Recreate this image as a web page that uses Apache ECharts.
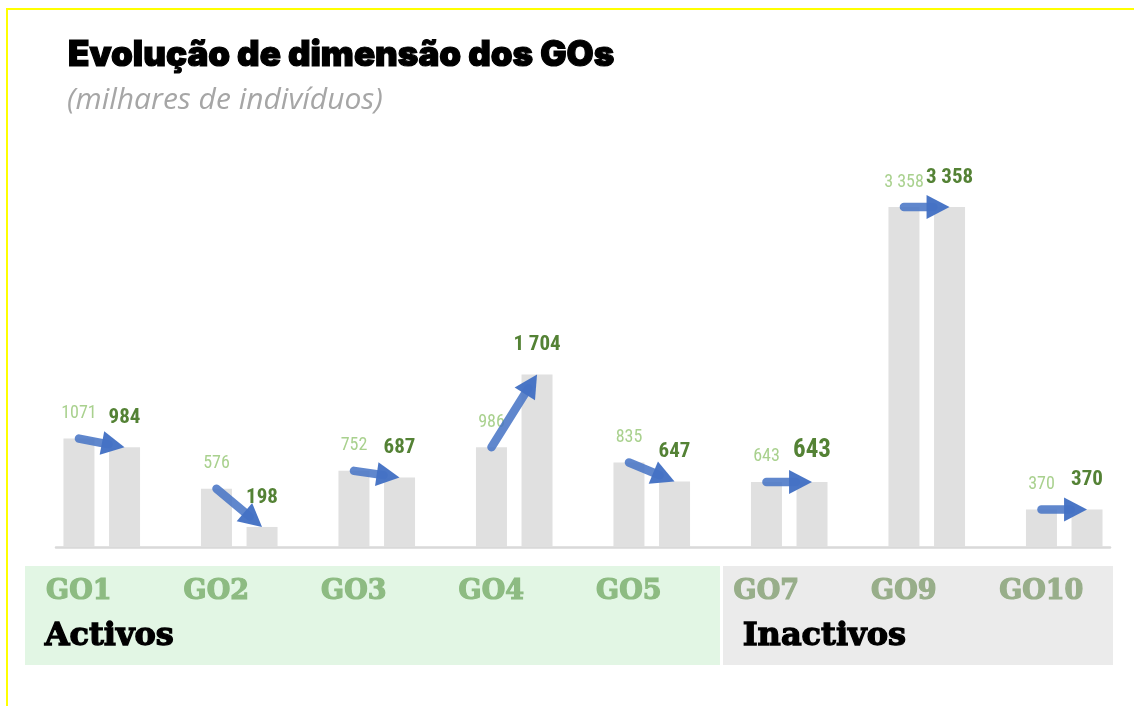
<!DOCTYPE html>
<html>
<head>
<meta charset="utf-8">
<script src="https://cdn.jsdelivr.net/npm/echarts@6/dist/echarts.min.js"></script>
<style>
html,body{margin:0;padding:0;background:#fff;}
#c{width:1134px;height:706px;}
</style>
</head>
<body>
<div id="c"></div>
<script>
// ---- data ----
var categories = ['GO1', 'GO2', 'GO3', 'GO4', 'GO5', 'GO7', 'GO9', 'GO10'];
var oldValues = [1071, 576, 752, 986, 835, 643, 3358, 370];
var newValues = [984, 198, 687, 1704, 647, 643, 3358, 370];
var oldLabels = ['1071', '576', '752', '986', '835', '643', '3 358', '370'];
var newLabels = ['984', '198', '687', '1 704', '647', '643', '3 358', '370'];
var activeCount = 5; // GO1..GO5 are "Activos"
var groupNames = ['Activos', 'Inactivos'];

// ---- style constants ----
var BAR_W = 31, BAR_GAP = 0.47;
var BAR_OFF = (BAR_W + BAR_W * BAR_GAP) / 2;
var NUM_FONT = '"Liberation Sans Narrow", "Roboto Condensed", "Liberation Sans", Arial, sans-serif';
var SLAB = '"DejaVu Serif", serif';
var ACT_COLOR = '#8dbb82', INACT_COLOR = '#98ae8a';

var chart = echarts.init(document.getElementById('c'), null, {renderer: 'canvas'});

var newData = newValues.map(function (v, i) {
  var item = {value: v};
  if (categories[i] === 'GO7') item.label = {fontSize: 25};
  return item;
});

var catData = categories.map(function (c, i) {
  var col = i < activeCount ? ACT_COLOR : INACT_COLOR;
  return {value: c, textStyle: {color: col, textBorderColor: col, textBorderWidth: 1.2}};
});

var arrowData = categories.map(function (c, i) { return [i, oldValues[i], newValues[i]]; });

function renderArrow(params, api) {
  var p1 = api.coord([api.value(0), api.value(1)]);
  var p2 = api.coord([api.value(0), api.value(2)]);
  var x1 = p1[0] - BAR_OFF, y1 = p1[1];
  var x2 = p2[0] + BAR_OFF, y2 = p2[1];
  var dx = x2 - x1, dy = y2 - y1;
  var len = Math.sqrt(dx * dx + dy * dy);
  var ux = dx / len, uy = dy / len;
  var L = 23, H = 12;
  var bx = x2 - ux * L, by = y2 - uy * L;
  var nx = -uy, ny = ux;
  var sx = x2 - ux * (L * 0.7), sy = y2 - uy * (L * 0.7);
  return {
    type: 'group',
    children: [
      {type: 'line', shape: {x1: x1, y1: y1, x2: sx, y2: sy},
       style: {stroke: '#4472c4', lineWidth: 8.5, lineCap: 'round', opacity: 0.85}},
      {type: 'polygon', shape: {points: [[x2, y2], [bx + nx * H, by + ny * H], [bx - nx * H, by - ny * H]]},
       style: {fill: '#4472c4', opacity: 0.97}}
    ]
  };
}

var option = {
  backgroundColor: '#ffffff',
  animation: false,
  title: [
    {text: 'Evolução de dimensão dos GOs', left: 63, top: 33,
     textStyle: {fontFamily: 'Inter, "Noto Sans", sans-serif', fontWeight: 900, fontSize: 35, color: '#000',
       textBorderColor: '#000', textBorderWidth: 1.2}},
    {text: '(milhares de indivíduos)', left: 62, top: 80,
     textStyle: {fontFamily: '"Open Sans", Roboto, sans-serif', fontStyle: 'italic', fontWeight: 'normal', fontSize: 30, color: '#a6a6a6'}}
  ],
  graphic: [
    {type: 'rect', shape: {x: 7, y: 9, width: 1200, height: 800}, style: {fill: 'none', stroke: '#ffff00', lineWidth: 2}, z: 0},
    {type: 'rect', shape: {x: 25, y: 566, width: 695, height: 99}, style: {fill: '#e2f6e4'}, z: 0},
    {type: 'rect', shape: {x: 723, y: 566, width: 390, height: 99}, style: {fill: '#ebebeb'}, z: 0},
    {type: 'text', left: 44, top: 620, style: {text: groupNames[0], font: 'bold 32px ' + SLAB, fill: '#000',
      stroke: '#000', lineWidth: 1.3}, z: 5},
    {type: 'text', left: 742, top: 620, style: {text: groupNames[1], font: 'bold 32px ' + SLAB, fill: '#000',
      stroke: '#000', lineWidth: 1.3}, z: 5}
  ],
  grid: [
    {left: 33, right: 1, top: 142, bottom: 159},
    {left: 56, right: 24, top: 142, bottom: 159}
  ],
  xAxis: [
    {type: 'category', gridIndex: 0, data: catData,
     axisLine: {show: false}, axisTick: {show: false},
     axisLabel: {margin: 31, fontFamily: SLAB, fontWeight: 'bold', fontSize: 27,
       padding: [0, 46, 0, 0]},
     z: 10},
    {type: 'category', gridIndex: 1, data: categories, boundaryGap: false,
     axisLine: {show: true, lineStyle: {color: '#d9d9d9', width: 2.5}},
     axisTick: {show: false}, axisLabel: {show: false}}
  ],
  yAxis: [
    {type: 'value', gridIndex: 0, min: 0, max: 4000, show: false, splitLine: {show: false}},
    {type: 'value', gridIndex: 1, min: 0, max: 4000, show: false, splitLine: {show: false}}
  ],
  series: [
    {type: 'bar', name: 'antes', xAxisIndex: 0, yAxisIndex: 0, data: oldValues,
     barWidth: BAR_W, barGap: (BAR_GAP * 100) + '%',
     itemStyle: {color: '#e0e0e0'},
     label: {show: true, position: 'top', distance: 16, fontFamily: NUM_FONT, fontSize: 18,
       color: '#a9d18e', formatter: function (p) { return oldLabels[p.dataIndex]; }}},
    {type: 'bar', name: 'depois', xAxisIndex: 0, yAxisIndex: 0, data: newData,
     barWidth: BAR_W,
     itemStyle: {color: '#e0e0e0'},
     label: {show: true, position: 'top', distance: 19, fontFamily: NUM_FONT, fontSize: 21, fontWeight: 'bold',
       color: '#548235', formatter: function (p) { return newLabels[p.dataIndex]; }}},
    {type: 'custom', xAxisIndex: 0, yAxisIndex: 0, data: arrowData, renderItem: renderArrow, z: 5, silent: true}
  ]
};
chart.setOption(option);
</script>
</body>
</html>
